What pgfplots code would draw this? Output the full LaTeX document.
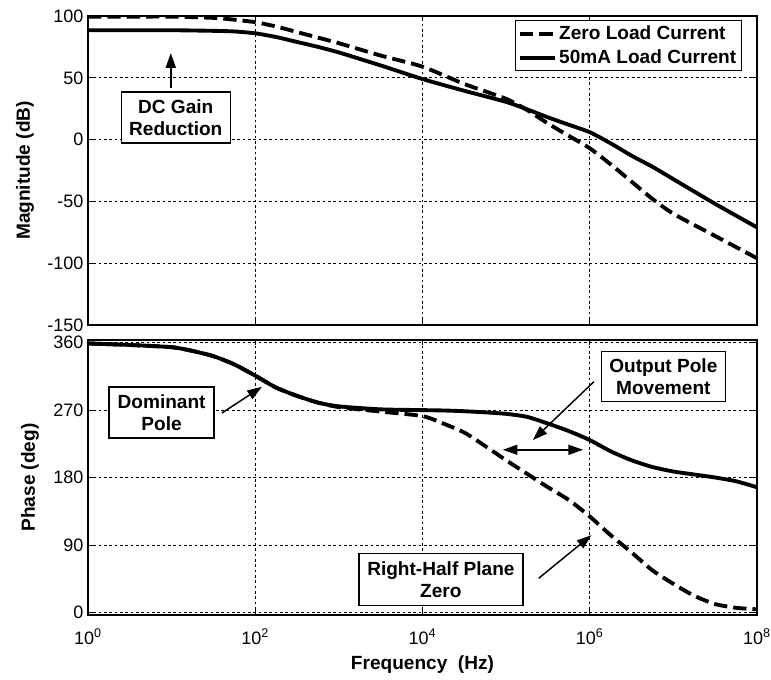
\documentclass[border=0pt]{standalone}
\usepackage{fontspec}
\setmainfont{Liberation Sans}
\usepackage{pgfplots}
\pgfplotsset{compat=1.18}
\usetikzlibrary{arrows.meta}
\tikzset{
  ann/.style={draw=black, line width=1.1pt, fill=white, align=center, font=\bfseries\fontsize{14.3}{16.5}\selectfont, inner sep=0pt},
  arr/.style={line width=1.1pt, -{Triangle[length=11pt,width=7.5pt]}},
}
\begin{document}
\begin{tikzpicture}
\path[use as bounding box] (-66pt,12pt) rectangle (512.25pt,-497.25pt);
\pgfplotsset{
  every axis/.append style={
    scale only axis, width=501.75pt, xmode=log, xmin=1, xmax=1e8,
    xtick={1,1e2,1e4,1e6,1e8}, xminorticks=false,
    grid=major, major grid style={black, line width=0.5pt, dash pattern=on 2pt off 2pt},
    axis line style={black, line width=0.8pt},
    tick style={black, line width=0.6pt}, tick align=inside, major tick length=4pt,
    ticklabel style={font=\fontsize{13.5}{15}\selectfont},
    label style={font=\bfseries\fontsize{14.3}{16}\selectfont},
    /pgf/number format/assume math mode=true,
  },
}
\begin{axis}[name=top, at={(0pt,0pt)}, anchor=north west, height=231.75pt,
  ymin=-150, ymax=100, ytick={-150,-100,-50,0,50,100}, yticklabels={-150,-100,-50,0,50,100},
  xticklabels={},
  ylabel={Magnitude (dB)}, ylabel style={at={(axis description cs:-0.0942,0.5)}, anchor=center},
  legend style={at={(rel axis cs:0.9776,0.987)}, anchor=north east, draw=black, line width=0.8pt, fill=white,
    font=\bfseries\fontsize{14.3}{16}\selectfont, inner xsep=2pt, inner ysep=2pt, row sep=2pt},
  legend cell align=left,
  legend image code/.code={\draw[#1] (0pt,0pt) -- (26pt,0pt);},
]
\addplot[black, line width=2.9pt, dash pattern=on 10pt off 4.5pt, smooth, tension=0.4] coordinates {
(1,99.5) (3.162,99.5) (10,99.5) (31.62,98.5) (56.23,97) (100,95) (177.8,91.5) (316.2,87) (562.3,82.5)
(1000,78) (3162,68) (1e4,59) (31623,45) (1e5,33) (177828,24) (316228,13) (562341,3)
(1e6,-7) (1.778e6,-20) (3.162e6,-34) (5.623e6,-48) (1e7,-60) (3.162e7,-78) (1e8,-96)};
\addlegendentry{Zero Load Current}
\addplot[black, line width=2.9pt, smooth, tension=0.4] coordinates {
(1,88.5) (3.162,88.5) (10,88.5) (31.62,88) (56.23,87.5) (100,86) (177.8,83) (316.2,79) (562.3,75)
(1000,70.5) (3162,60) (1e4,49) (31623,39.5) (1e5,30.5) (177828,24.5) (316228,18) (562341,12)
(1e6,6) (1.778e6,-3) (3.162e6,-13) (5.623e6,-22) (1e7,-32) (3.162e7,-52) (1e8,-71)};
\addlegendentry{50mA Load Current}
\draw[arr] (axis cs:9.77,41.7) -- (axis cs:9.77,70);
\node[ann, minimum width=81.75pt, minimum height=38.25pt] at (axis cs:11.2,17.9) {DC Gain\\Reduction};
\end{axis}

\begin{axis}[name=bot, at={(0pt,-243pt)}, anchor=north west, height=206.25pt,
  ymin=-3.6, ymax=363.6, ytick={0,90,180,270,360}, yticklabels={0,90,180,270,360},
  xticklabels={10\textsuperscript{0},10\textsuperscript{2},10\textsuperscript{4},10\textsuperscript{6},10\textsuperscript{8}},
  xticklabel style={yshift=-7pt},
  xlabel={Frequency\ \ (Hz)}, xlabel style={at={(axis description cs:0.5,-0.182)}, anchor=center},
  ylabel={Phase (deg)}, ylabel style={at={(axis description cs:-0.0867,0.5)}, anchor=center},
]
\addplot[black, line width=2.9pt, smooth, tension=0.4] coordinates {
(1,359) (3.162,357) (10,354) (17.78,349) (31.62,342) (56.23,331) (100,316) (177.8,300) (316.2,289)
(562.3,280) (1000,275) (3162,271) (1e4,270) (17783,269.5) (31623,268.5) (56234,267) (1e5,265)
(177828,261) (316228,252) (562341,242) (1e6,230) (1.778e6,215) (3.162e6,203) (5.623e6,194)
(1e7,188) (1.778e7,184) (3.162e7,180) (5.623e7,175) (1e8,167)};
\addplot[black, line width=2.9pt, dash pattern=on 10pt off 4.5pt, smooth, tension=0.4] coordinates {
(1,359) (3.162,357) (10,354) (17.78,349) (31.62,342) (56.23,331) (100,316) (177.8,300) (316.2,289)
(562.3,280) (1000,274) (3162,268) (1e4,262) (17783,252) (31623,240) (56234,222) (1e5,203)
(177828,185) (316228,167) (562341,150) (1e6,128) (1.778e6,103) (3.162e6,80) (5.623e6,56)
(1e7,38) (1.778e7,22) (3.162e7,11) (5.623e7,6) (1e8,4)};
\draw[arr] (axis cs:39.8,266) -- (axis cs:120,301);
\node[ann, minimum width=78.75pt, minimum height=38.25pt] at (axis cs:7.59,267) {Dominant\\Pole};
\draw[arr] (axis cs:1.122e6,308) -- (axis cs:2.09e5,230);
\draw[line width=1.1pt, {Triangle[length=11pt,width=7.5pt]}-{Triangle[length=11pt,width=7.5pt]}] (axis cs:91201,217) -- (axis cs:8.32e5,217);
\node[ann, minimum width=93pt, minimum height=37.5pt] at (axis cs:7.59e6,315) {Output Pole\\Movement};
\draw[arr] (axis cs:2.455e5,45.5) -- (axis cs:1.047e6,103);
\node[ann, minimum width=123pt, minimum height=39pt] at (axis cs:16596,44) {Right-Half Plane\\Zero};
\end{axis}
\end{tikzpicture}
\end{document}
